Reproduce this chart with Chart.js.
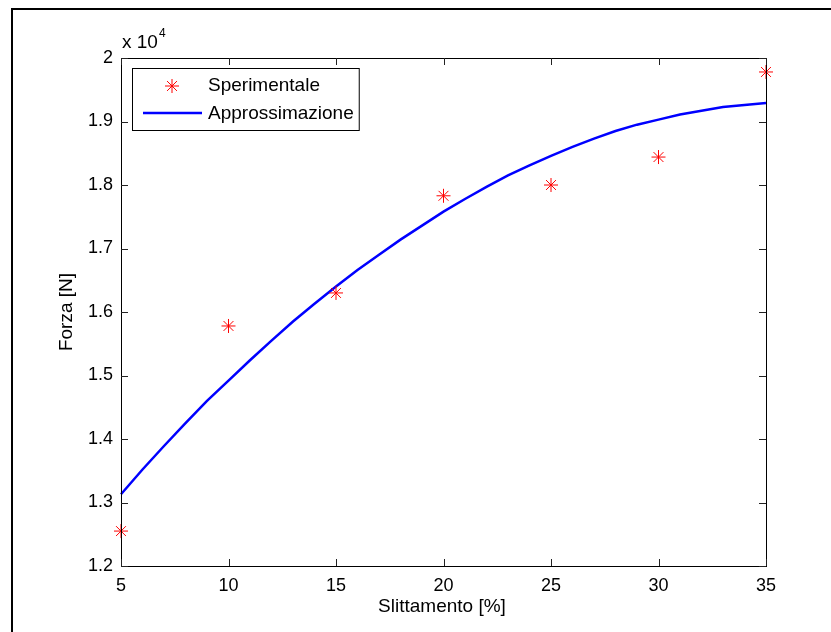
<!DOCTYPE html>
<html>
<head>
<meta charset="utf-8">
<script src="https://cdn.jsdelivr.net/npm/chart.js@4.4.1/dist/chart.umd.min.js"></script>
<style>
    body { margin: 0; background: #fff; }
    #wrap { width: 831px; height: 632px; position: relative; }
</style>
</head>
<body>
<div id="wrap"><canvas id="grafico"></canvas></div>
<script>
// dati
const slittamentoSper = [5, 10, 15, 20, 25, 30, 35];
const forzaSper = [12550, 15780, 16300, 17830, 18000, 18440, 19780];

const slittamentoApprox = [5, 6, 7, 8, 9, 10, 11, 12, 13, 14, 15, 16, 17, 18, 19, 20,
    21, 22, 23, 24, 25, 26, 27, 28, 29, 30, 31, 32, 33, 34, 35];
const forzaApprox = [13130, 13520, 13890, 14250, 14600, 14920, 15240, 15550, 15850, 16130, 16400,
    16660, 16900, 17140, 17360, 17580, 17780, 17970, 18150, 18310, 18460,
    18600, 18730, 18850, 18950, 19030, 19110, 19170, 19230, 19260, 19290];

const xTicks = [5, 10, 15, 20, 25, 30, 35];
const yTicks = [12000, 13000, 14000, 15000, 16000, 17000, 18000, 19000, 20000];

const FONT = '"Liberation Sans", Arial, sans-serif';

const assiMatlab = {
    id: 'assiMatlab',
    afterDatasetsDraw(chart) {
        const ctx = chart.ctx;
        const a = chart.chartArea;
        const xs = chart.scales.x;
        const ys = chart.scales.y;
        ctx.save();
        // cornice esterna
        ctx.strokeStyle = '#000';
        ctx.lineWidth = 2;
        ctx.strokeRect(12, 9, 840, 640);
        // box assi
        ctx.lineWidth = 1;
        ctx.strokeStyle = '#000';
        ctx.strokeRect(a.left + 0.5, a.top + 0.5, a.right - a.left, a.bottom - a.top);
        // tacche verso l'interno
        ctx.strokeStyle = '#222';
        const len = 7;
        ctx.beginPath();
        xTicks.forEach(v => {
            const px = Math.round(xs.getPixelForValue(v)) + 0.5;
            ctx.moveTo(px, a.bottom); ctx.lineTo(px, a.bottom - len);
            ctx.moveTo(px, a.top); ctx.lineTo(px, a.top + len);
        });
        yTicks.forEach(v => {
            const py = Math.round(ys.getPixelForValue(v)) + 0.5;
            ctx.moveTo(a.left, py); ctx.lineTo(a.left + len, py);
            ctx.moveTo(a.right, py); ctx.lineTo(a.right - len, py);
        });
        ctx.stroke();

        // titoli assi
        ctx.fillStyle = '#000';
        ctx.font = '19px ' + FONT;
        ctx.textAlign = 'center';
        ctx.textBaseline = 'middle';
        ctx.fillText('Slittamento [%]', 442, 607);
        ctx.save();
        ctx.translate(67, (a.top + a.bottom) / 2);
        ctx.rotate(-Math.PI / 2);
        ctx.fillText('Forza [N]', 0, 0);
        ctx.restore();

        // moltiplicatore
        ctx.textAlign = 'left';
        ctx.textBaseline = 'alphabetic';
        ctx.font = '19px ' + FONT;
        ctx.fillText('x 10', 122, 48);
        const w = ctx.measureText('x 10').width;
        ctx.font = '12px ' + FONT;
        ctx.fillText('4', 122 + w + 1, 37);

        // legenda
        ctx.font = '19px ' + FONT;
        const bx = 132, by = 68;
        const tx = 208;
        const bw = tx + ctx.measureText('Approssimazione').width + 5 - bx;
        const bh = 62;
        ctx.fillStyle = '#fff';
        ctx.fillRect(bx, by, bw, bh);
        ctx.strokeStyle = '#000';
        ctx.lineWidth = 1;
        ctx.strokeRect(bx + 0.5, by + 0.5, bw, bh);
        ctx.strokeStyle = '#ff0000';
        ctx.lineWidth = 1;
        Chart.helpers.drawPoint(ctx, { pointStyle: 'star', radius: 7, rotation: 0, borderWidth: 1 }, 172, 86);
        ctx.strokeStyle = '#0000ff';
        ctx.lineWidth = 2.5;
        ctx.beginPath();
        ctx.moveTo(143, 113); ctx.lineTo(202, 113);
        ctx.stroke();
        ctx.fillStyle = '#000';
        ctx.textBaseline = 'middle';
        ctx.fillText('Sperimentale', tx, 86);
        ctx.fillText('Approssimazione', tx, 114);
        ctx.restore();
    }
};

new Chart(document.getElementById('grafico'), {
    type: 'scatter',
    data: {
        datasets: [
            {
                label: 'Sperimentale',
                data: slittamentoSper.map((x, i) => ({ x, y: forzaSper[i] })),
                showLine: false,
                pointStyle: 'star',
                pointRadius: 7,
                pointBorderWidth: 1,
                borderColor: '#ff0000',
                backgroundColor: '#ff0000',
                clip: false,
                order: 1
            },
            {
                label: 'Approssimazione',
                data: slittamentoApprox.map((x, i) => ({ x, y: forzaApprox[i] })),
                showLine: true,
                pointRadius: 0,
                borderColor: '#0000ff',
                borderWidth: 2.5,
                tension: 0,
                clip: false,
                order: 2
            }
        ]
    },
    options: {
        responsive: true,
        maintainAspectRatio: false,
        animation: false,
        layout: { padding: { top: 58, right: 65, left: 0, bottom: 0 } },
        plugins: {
            legend: { display: false },
            tooltip: { enabled: false }
        },
        scales: {
            x: {
                type: 'linear',
                min: 5,
                max: 35,
                afterBuildTicks: s => { s.ticks = xTicks.map(v => ({ value: v })); },
                afterFit: s => { s.height = 66; },
                grid: { display: false, drawTicks: false },
                border: { display: false },
                ticks: { color: '#000', padding: 9, font: { family: FONT, size: 18 } }
            },
            y: {
                min: 12000,
                max: 20000,
                afterBuildTicks: s => { s.ticks = yTicks.map(v => ({ value: v })); },
                afterFit: s => { s.width = 121; },
                grid: { display: false, drawTicks: false },
                border: { display: false },
                ticks: {
                    color: '#000',
                    padding: 8,
                    font: { family: FONT, size: 18 },
                    callback: v => String(parseFloat((v / 10000).toFixed(1)))
                }
            }
        }
    },
    plugins: [assiMatlab]
});
</script>
</body>
</html>
